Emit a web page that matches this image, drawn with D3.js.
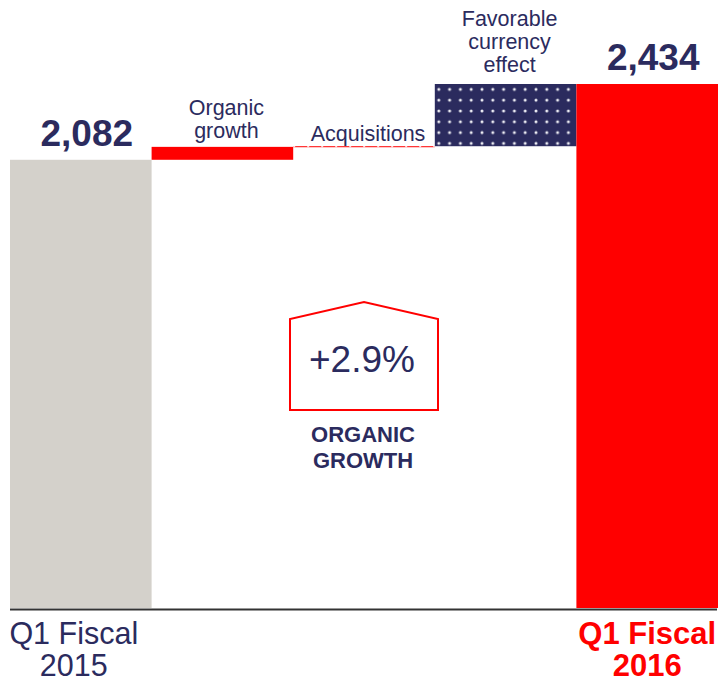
<!DOCTYPE html>
<html>
<head>
<meta charset="utf-8">
<script src="https://cdn.jsdelivr.net/npm/d3@7"></script>
<style>
  body { margin: 0; background: #fff; }
  svg { display: block; font-family: "Liberation Sans", Arial, sans-serif; }
</style>
</head>
<body>
<div id="chart"></div>
<script>
// waterfall data
const categories = ["Q1 Fiscal 2015", "Organic growth", "Acquisitions", "Favorable currency effect", "Q1 Fiscal 2016"];
const values = [2082, 60, 3, 289, 2434];
const kinds = ["total", "step", "step", "step", "total"];
const valueLabels = ["2,082", "", "", "", "2,434"];
const organicPct = "+2.9%";

const width = 718, height = 681;
const navy = "#2b2b5e", red = "#ff0000", grey = "#d4d1cb";

const svg = d3.select("#chart").append("svg")
    .attr("width", width)
    .attr("height", height);

const x = d3.scaleBand().domain(categories).range([10, 718]).padding(0);
const y = d3.scaleLinear().domain([0, 2434]).range([608, 84]);

// compute start/end of each bar
let running = 0;
const bars = categories.map(function (c, i) {
    let y0, y1;
    if (kinds[i] === "total") {
        y0 = 0; y1 = values[i]; running = values[i];
    } else {
        y0 = running; y1 = running + values[i]; running = y1;
    }
    return { cat: c, y0: y0, y1: y1, i: i };
});

// dot pattern for currency bar
const defs = svg.append("defs");
const pat = defs.append("pattern")
    .attr("id", "dots")
    .attr("width", 10.8).attr("height", 10.8)
    .attr("patternUnits", "userSpaceOnUse")
    .attr("x", x(categories[3]) + 2).attr("y", 1);
pat.append("rect").attr("width", 10.8).attr("height", 10.8).attr("fill", navy);
pat.append("circle").attr("cx", 2).attr("cy", 2).attr("r", 1.5).attr("fill", "#eeeef4");

const fills = [grey, red, red, "url(#dots)", red];

svg.append("g").selectAll("rect")
    .data(bars)
    .join("rect")
    .attr("x", d => x(d.cat))
    .attr("width", x.bandwidth())
    .attr("y", d => y(d.y1))
    .attr("height", d => Math.max(1, y(d.y0) - y(d.y1)))
    .attr("fill", (d, i) => fills[i]);

// dashes on the acquisitions line
const acq = bars[2];
svg.append("line")
    .attr("x1", x(acq.cat)).attr("x2", x(acq.cat) + x.bandwidth())
    .attr("y1", y(acq.y1) + 0.5).attr("y2", y(acq.y1) + 0.5)
    .attr("stroke", "#fff")
    .attr("stroke-width", 1)
    .attr("stroke-dasharray", "2,12");

// baseline
svg.append("line")
    .attr("x1", 10).attr("x2", 717)
    .attr("y1", 609.5).attr("y2", 609.5)
    .attr("stroke", "#333")
    .attr("stroke-width", 2);

// total value labels
svg.append("g").selectAll("text")
    .data(bars.filter(d => valueLabels[d.i]))
    .join("text")
    .attr("x", d => x(d.cat) + x.bandwidth() / 2 + 6)
    .attr("y", d => y(d.y1) - 14)
    .attr("text-anchor", "middle")
    .attr("fill", navy)
    .attr("font-weight", "bold")
    .attr("font-size", 37)
    .text(d => valueLabels[d.i]);

// step category labels above bars
const stepLines = [null, ["Organic", "growth"], ["Acquisitions"], ["Favorable", "currency", "effect"], null];
const stepGap = [0, 9, 5, 12, 0];
bars.forEach(function (d) {
    const lines = stepLines[d.i];
    if (!lines) return;
    const t = svg.append("text")
        .attr("text-anchor", "middle")
        .attr("fill", navy)
        .attr("font-size", 21.5);
    const top = y(d.y1) - stepGap[d.i] - (lines.length - 1) * 23;
    lines.forEach(function (l, k) {
        t.append("tspan")
            .attr("x", x(d.cat) + x.bandwidth() / 2 + 4)
            .attr("y", top + k * 23)
            .text(l);
    });
});

// bottom labels
const bottom = [["Q1 Fiscal", "2015"], ["Q1 Fiscal", "2016"]];
[0, 4].forEach(function (i, k) {
    const t = svg.append("text")
        .attr("text-anchor", "middle")
        .attr("fill", k === 0 ? navy : red)
        .attr("font-weight", k === 0 ? "normal" : "bold")
        .attr("font-size", k === 0 ? 30.5 : 31);
    bottom[k].forEach(function (l, j) {
        t.append("tspan")
            .attr("x", x(categories[i]) + x.bandwidth() / 2 - (k === 0 ? 7 : 0))
            .attr("y", 644 + j * 32)
            .text(l);
    });
});

// organic growth callout
svg.append("path")
    .attr("d", "M290,410 L290,319 L364,302 L438,319 L438,410 Z")
    .attr("fill", "none")
    .attr("stroke", red)
    .attr("stroke-width", 2);
svg.append("text")
    .attr("x", 362).attr("y", 372)
    .attr("text-anchor", "middle")
    .attr("fill", navy)
    .attr("font-size", 37)
    .text(organicPct);
const og = svg.append("text")
    .attr("text-anchor", "middle")
    .attr("fill", navy)
    .attr("font-weight", "bold")
    .attr("font-size", 22);
["ORGANIC", "GROWTH"].forEach(function (l, j) {
    og.append("tspan").attr("x", 363).attr("y", 442 + j * 26).text(l);
});
</script>
</body>
</html>
